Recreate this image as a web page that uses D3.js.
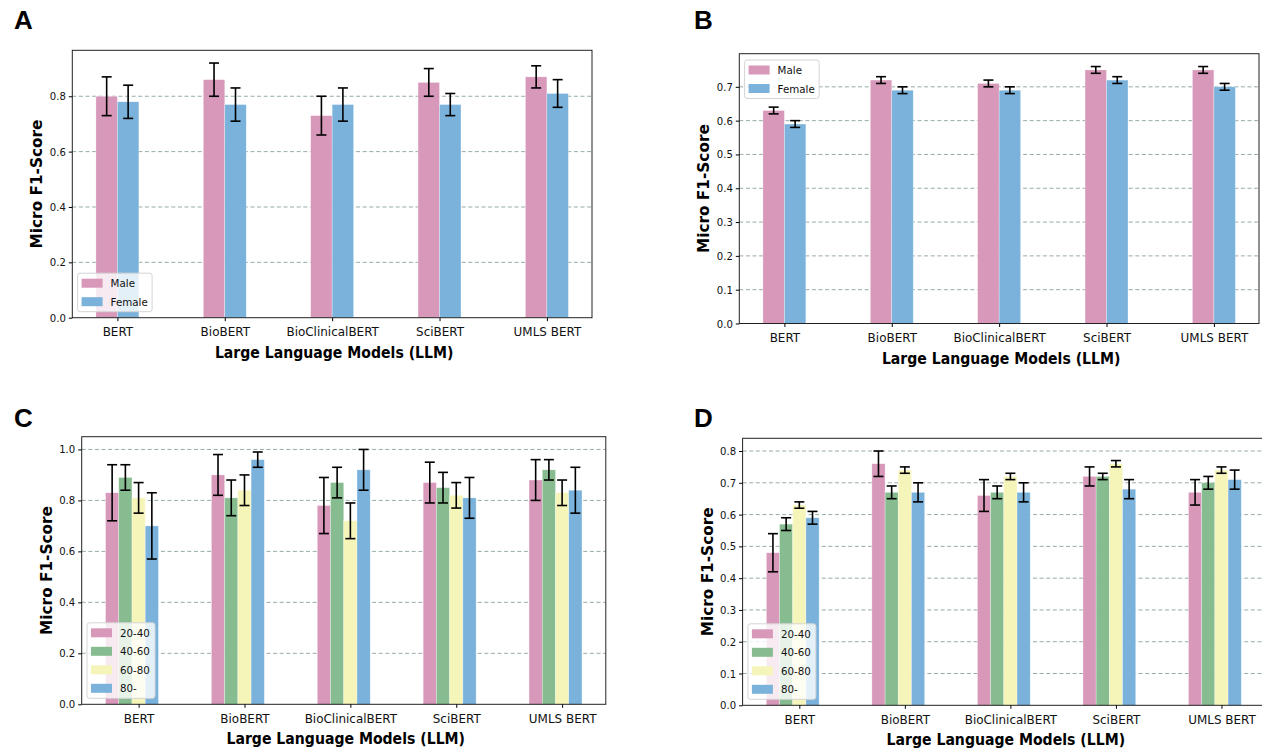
<!DOCTYPE html>
<html>
<head>
<meta charset="utf-8">
<script src="https://cdn.jsdelivr.net/npm/d3@7"></script>
<style>
  body { margin: 0; background: #fff; }
  svg { display: block; font-family: "DejaVu Sans", sans-serif; }
</style>
</head>
<body>
<div id="chart"></div>
<script>
const models = ["BERT", "BioBERT", "BioClinicalBERT", "SciBERT", "UMLS BERT"];
const genders = ["Male", "Female"];
const ageGroups = ["20-40", "40-60", "60-80", "80-"];
const genderColors = ["#d898ba", "#7ab2db"];
const ageColors = ["#d898ba", "#86bc8f", "#f6f5b9", "#7ab2db"];

// panel A: gender, run 1
const aMale = [0.80, 0.86, 0.73, 0.85, 0.87];
const aMaleErr = [0.07, 0.06, 0.07, 0.05, 0.04];
const aFemale = [0.78, 0.77, 0.77, 0.77, 0.81];
const aFemaleErr = [0.06, 0.06, 0.06, 0.04, 0.05];
const aTicks = [0, 0.2, 0.4, 0.6, 0.8];

// panel B: gender, run 2
const bMale = [0.63, 0.72, 0.71, 0.75, 0.75];
const bMaleErr = [0.01, 0.01, 0.01, 0.01, 0.01];
const bFemale = [0.59, 0.69, 0.69, 0.72, 0.70];
const bFemaleErr = [0.01, 0.01, 0.01, 0.01, 0.01];
const bTicks = [0, 0.1, 0.2, 0.3, 0.4, 0.5, 0.6, 0.7];

// panel C: age groups, run 1
const c2040 = [0.83, 0.90, 0.78, 0.87, 0.88];
const c2040Err = [0.11, 0.08, 0.11, 0.08, 0.08];
const c4060 = [0.89, 0.81, 0.87, 0.85, 0.92];
const c4060Err = [0.05, 0.07, 0.06, 0.06, 0.04];
const c6080 = [0.81, 0.84, 0.72, 0.82, 0.83];
const c6080Err = [0.06, 0.06, 0.07, 0.05, 0.05];
const c80 = [0.70, 0.96, 0.92, 0.81, 0.84];
const c80Err = [0.13, 0.03, 0.08, 0.08, 0.09];
const cTicks = [0, 0.2, 0.4, 0.6, 0.8, 1.0];

// panel D: age groups, run 2
const d2040 = [0.48, 0.76, 0.66, 0.72, 0.67];
const d2040Err = [0.06, 0.04, 0.05, 0.03, 0.04];
const d4060 = [0.57, 0.67, 0.67, 0.72, 0.70];
const d4060Err = [0.02, 0.02, 0.02, 0.01, 0.02];
const d6080 = [0.63, 0.74, 0.72, 0.76, 0.74];
const d6080Err = [0.01, 0.01, 0.01, 0.01, 0.01];
const d80 = [0.59, 0.67, 0.67, 0.68, 0.71];
const d80Err = [0.02, 0.03, 0.03, 0.03, 0.03];
const dTicks = [0, 0.1, 0.2, 0.3, 0.4, 0.5, 0.6, 0.7, 0.8];

const W = 1262, H = 748;
const squeeze = "scale(0.92,1)";

const svg = d3.select("#chart").append("svg")
  .attr("width", W)
  .attr("height", H);

svg.append("rect").attr("width", W).attr("height", H).attr("fill", "#fff");

const panels = [
  { letter: "A", lx: 14, ly: 29, box: [72.3, 50.3, 592, 317.7],
    names: genders, colors: genderColors, barW: 0.2, shift: 0.5,
    means: [aMale, aFemale], errs: [aMaleErr, aFemaleErr], ticks: aTicks, legend: "lower" },
  { letter: "B", lx: 694, ly: 29, box: [739.3, 53.7, 1259, 323.5],
    names: genders, colors: genderColors, barW: 0.2, shift: 0.5,
    means: [bMale, bFemale], errs: [bMaleErr, bFemaleErr], ticks: bTicks, legend: "upper" },
  { letter: "C", lx: 14, ly: 427, box: [81.7, 436.7, 605.8, 704.3],
    names: ageGroups, colors: ageColors, barW: 0.125, shift: 2,
    means: [c2040, c4060, c6080, c80], errs: [c2040Err, c4060Err, c6080Err, c80Err], ticks: cTicks, legend: "lower" },
  { letter: "D", lx: 694, ly: 427, box: [742.6, 438.3, 1265, 705.3],
    names: ageGroups, colors: ageColors, barW: 0.125, shift: 2,
    means: [d2040, d4060, d6080, d80], errs: [d2040Err, d4060Err, d6080Err, d80Err], ticks: dTicks, legend: "lower" }
];

panels.forEach(drawPanel);

function drawPanel(p) {
  const [left, top, right, bottom] = p.box;
  const n = p.names.length;
  const w = p.barW;

  const bars = [];
  p.names.forEach((name, s) => {
    models.forEach((m, i) => {
      bars.push({ s, i, x: i + (s - p.shift) * w, v: p.means[s][i], e: p.errs[s][i] });
    });
  });

  const lo = d3.min(bars, (d) => d.x) - w / 2;
  const hi = d3.max(bars, (d) => d.x) + w / 2;
  const pad = (hi - lo) * 0.05;
  const x = d3.scaleLinear().domain([lo - pad, hi + pad]).range([left, right]);
  const yMax = d3.max(bars, (d) => d.v + d.e) * 1.05;
  const y = d3.scaleLinear().domain([0, yMax]).range([bottom, top]);

  const g = svg.append("g");

  g.append("text")
    .attr("x", p.lx)
    .attr("y", p.ly)
    .attr("font-family", "Liberation Sans, Arial, sans-serif")
    .attr("font-weight", "bold")
    .attr("font-size", 26)
    .text(p.letter);

  // grid behind the bars
  g.selectAll("line.grid")
    .data(p.ticks.filter((t) => t > 0))
    .enter()
    .append("line")
    .attr("x1", left)
    .attr("x2", right)
    .attr("y1", (d) => y(d))
    .attr("y2", (d) => y(d))
    .attr("stroke", "#97abab")
    .attr("stroke-width", 1)
    .attr("stroke-dasharray", "4,2.6");

  g.selectAll("rect.bar")
    .data(bars)
    .enter()
    .append("rect")
    .attr("x", (d) => x(d.x - w / 2))
    .attr("y", (d) => y(d.v))
    .attr("width", (d) => x(d.x + w / 2) - x(d.x - w / 2))
    .attr("height", (d) => y(0) - y(d.v))
    .attr("fill", (d) => p.colors[d.s])
    .attr("stroke", "#fff")
    .attr("stroke-opacity", 0.5)
    .attr("stroke-width", 0.6);

  const err = g.selectAll("g.err")
    .data(bars)
    .enter()
    .append("g")
    .attr("stroke", "#000")
    .attr("stroke-width", 1.6);

  err.append("line")
    .attr("x1", (d) => x(d.x))
    .attr("x2", (d) => x(d.x))
    .attr("y1", (d) => y(d.v - d.e))
    .attr("y2", (d) => y(d.v + d.e));

  [-1, 1].forEach((sign) => {
    err.append("line")
      .attr("x1", (d) => x(d.x) - 5)
      .attr("x2", (d) => x(d.x) + 5)
      .attr("y1", (d) => y(d.v + sign * d.e))
      .attr("y2", (d) => y(d.v + sign * d.e));
  });

  // frame
  g.append("rect")
    .attr("x", left)
    .attr("y", top)
    .attr("width", right - left)
    .attr("height", bottom - top)
    .attr("fill", "none")
    .attr("stroke", "#222")
    .attr("stroke-width", 1);

  const yAxis = g.append("g")
    .attr("transform", `translate(${left},0)`)
    .call(d3.axisLeft(y).tickValues(p.ticks).tickFormat(d3.format(".1f")).tickSize(3.5).tickPadding(3.5));
  yAxis.select(".domain").remove();
  yAxis.selectAll("text")
    .attr("font-size", 11)
    .attr("fill", "#111")
    .attr("font-family", "DejaVu Sans")
    .attr("transform", squeeze);

  const xAxis = g.append("g")
    .attr("transform", `translate(0,${bottom})`)
    .call(d3.axisBottom(x).tickValues(d3.range(models.length)).tickFormat((i) => models[i]).tickSize(3.5).tickPadding(6));
  xAxis.select(".domain").remove();
  xAxis.selectAll("text")
    .attr("font-size", 13)
    .attr("fill", "#111")
    .attr("font-family", "DejaVu Sans")
    .attr("transform", squeeze);

  g.append("text")
    .attr("transform", `translate(${left - 30},${(top + bottom) / 2}) rotate(-90)`)
    .attr("text-anchor", "middle")
    .attr("font-weight", "bold")
    .attr("font-size", 15.3)
    .text("Micro F1-Score");

  g.append("g")
    .attr("transform", `translate(${(left + right) / 2 + 2},${bottom + 40}) ${squeeze}`)
    .append("text")
    .attr("text-anchor", "middle")
    .attr("font-weight", "bold")
    .attr("font-size", 15.3)
    .text("Large Language Models (LLM)");

  // legend
  const rowGap = 18.5;
  const boxH = 20 + (n - 1) * rowGap;
  const boxW = n === 2 ? 74.5 : 68;
  const bx = left + 5.3;
  const by = p.legend === "upper" ? top + 6.3 : bottom - 6 - boxH;
  const lg = g.append("g").attr("transform", `translate(${bx},${by})`);
  lg.append("rect")
    .attr("width", boxW)
    .attr("height", boxH)
    .attr("rx", 2.5)
    .attr("fill", "#fff")
    .attr("fill-opacity", 0.8)
    .attr("stroke", "#d4d4d4")
    .attr("stroke-width", 1);

  const rows = lg.selectAll("g.row")
    .data(p.names)
    .enter()
    .append("g")
    .attr("transform", (d, i) => `translate(0,${10 + i * rowGap})`);
  rows.append("rect")
    .attr("x", 4)
    .attr("y", -4.5)
    .attr("width", 21)
    .attr("height", 9)
    .attr("fill", (d, i) => p.colors[i]);
  rows.append("g")
    .attr("transform", `translate(33,4) ${squeeze}`)
    .append("text")
    .attr("font-size", 11.2)
    .attr("fill", "#111")
    .text((d) => d);
}
</script>
</body>
</html>
